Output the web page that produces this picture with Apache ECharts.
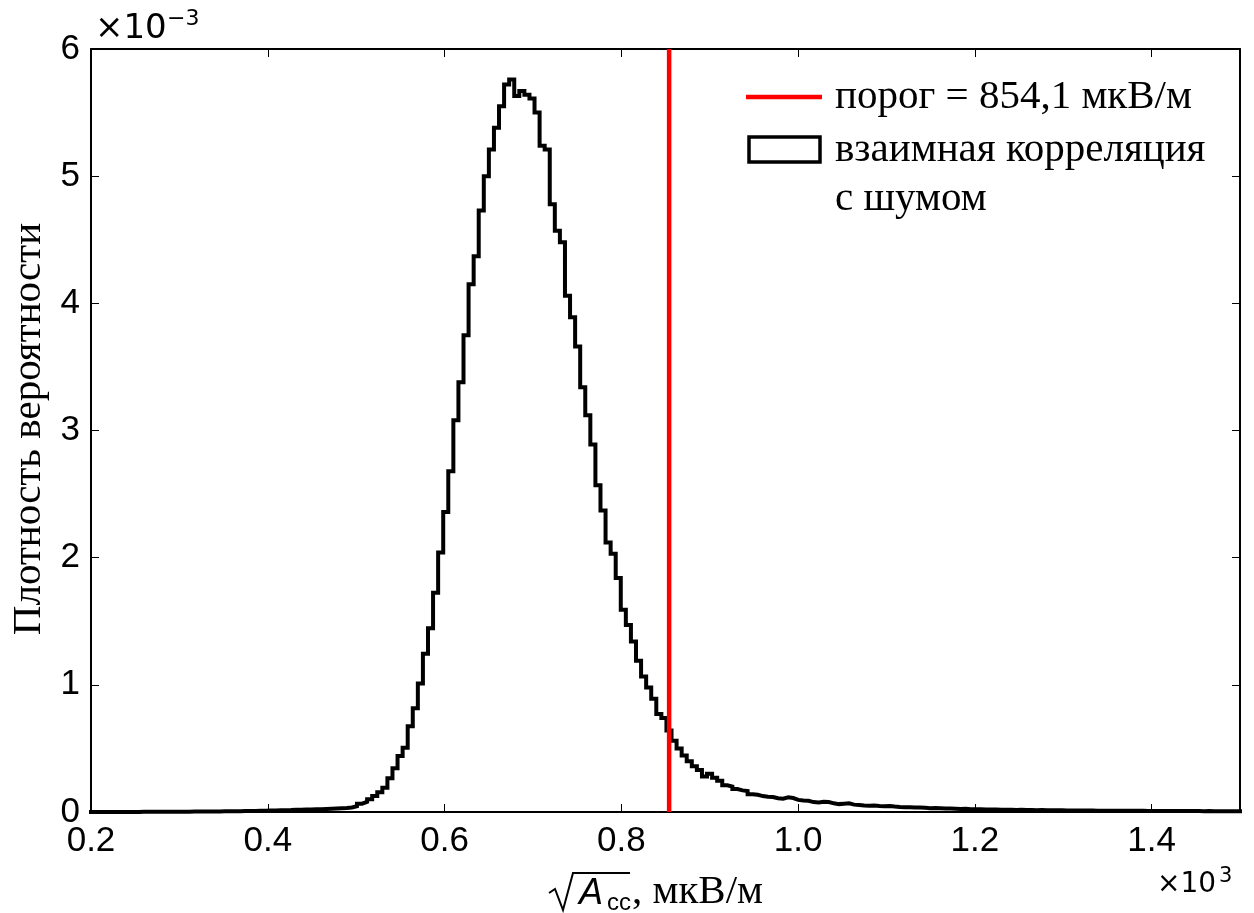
<!DOCTYPE html>
<html>
<head>
<meta charset="utf-8">
<script src="https://cdn.jsdelivr.net/npm/echarts@6/dist/echarts.min.js"></script>
<style>
    html, body { margin: 0; padding: 0; background: #fff; }
    #chart { width: 1254px; height: 913px; }
</style>
</head>
<body>
<div id="chart"></div>
<script>
// гистограмма: начало первого бина и ширина бина (в единицах ×10^3)
var binStart = 0.1967
var binWidth = 0.00574
// плотность вероятности по бинам (×10^-3)
var density = [
    0, 0, 0, 0, 0, 0, 0, 0, 0, 0,
    0.001, 0.001, 0.001, 0.001, 0.001, 0.001, 0.002, 0.002, 0.002, 0.002,
    0.003, 0.003, 0.003, 0.004, 0.004, 0.004, 0.005, 0.005, 0.006, 0.006,
    0.007, 0.008, 0.008, 0.009, 0.010, 0.011, 0.012, 0.013, 0.014, 0.015,
    0.017, 0.018, 0.019, 0.020, 0.021, 0.022, 0.024, 0.026, 0.028, 0.030,
    0.032, 0.035, 0.045, 0.065, 0.080, 0.100, 0.125, 0.155, 0.190, 0.265,
    0.345, 0.44, 0.505, 0.675, 0.815, 1.01, 1.245, 1.445, 1.725, 2.04,
    2.36, 2.68, 3.08, 3.38, 3.75, 4.15, 4.37, 4.73, 5.00, 5.21,
    5.38, 5.55, 5.72, 5.76, 5.63, 5.67, 5.64, 5.61, 5.50, 5.24,
    5.21, 4.78, 4.57, 4.48, 4.06, 3.89, 3.66, 3.34, 3.12, 2.89,
    2.57, 2.37, 2.12, 2.03, 1.84, 1.59, 1.47, 1.34, 1.19, 1.065,
    0.98, 0.89, 0.77, 0.74, 0.64, 0.56, 0.50, 0.445, 0.40, 0.36,
    0.33, 0.28, 0.30, 0.27, 0.245, 0.21, 0.20, 0.18, 0.17, 0.165,
    0.14, 0.135, 0.125, 0.12, 0.118, 0.108, 0.105, 0.115, 0.11, 0.095,
    0.09, 0.088, 0.078, 0.075, 0.08, 0.078, 0.068, 0.062, 0.065, 0.068,
    0.058, 0.055, 0.052, 0.05, 0.052, 0.048, 0.045, 0.047, 0.043, 0.04,
    0.038, 0.037, 0.035, 0.036, 0.033, 0.03, 0.031, 0.029, 0.027, 0.028,
    0.026, 0.024, 0.025, 0.022, 0.021, 0.022, 0.02, 0.019, 0.02, 0.018,
    0.017, 0.018, 0.016, 0.017, 0.015, 0.016, 0.014, 0.015, 0.013, 0.014,
    0.013, 0.013, 0.012, 0.012, 0.012, 0.011, 0.011, 0.011, 0.010, 0.010,
    0.010, 0.010, 0.009, 0.010, 0.009, 0.009, 0.009, 0.009, 0.008, 0.008,
    0.008, 0.008, 0.008, 0.007, 0.008, 0.007, 0.007, 0.007, 0.007, 0.006,
    0.007, 0.006, 0.006, 0.006, 0.006, 0.005, 0.006, 0.005
]
var threshold = 0.8541
var legendNames = ['порог = 854,1 мкВ/м', 'взаимная корреляция', 'с шумом']
var xTicks = [0.2, 1.5, 0.2]   // min, max, interval
var yTicks = [0, 6, 1]

var sansFont = '"Liberation Sans", "DejaVu Sans", sans-serif'
var mathFont = '"DejaVu Sans", sans-serif'
var serifFont = '"Liberation Serif", "DejaVu Serif", serif'

var chart = echarts.init(document.getElementById('chart'))

// точки ступенчатой линии: левый край каждого бина
var stepData = []
for (var i = 0; i < density.length; i++) {
    stepData.push([binStart + i * binWidth, density[i]])
}
stepData.push([binStart + density.length * binWidth, density[density.length - 1]])

function makeX(pos, showLabel) {
    return {
        type: 'value',
        position: pos,
        min: xTicks[0],
        max: xTicks[1],
        interval: xTicks[2],
        axisLine: { show: true, onZero: false, lineStyle: { color: '#000', width: 2 } },
        axisTick: { show: true, inside: true, length: 8, lineStyle: { color: '#000', width: 1 } },
        splitLine: { show: false },
        axisLabel: {
            show: showLabel,
            showMaxLabel: false,
            margin: 12,
            color: '#000',
            fontSize: 35,
            fontFamily: sansFont,
            formatter: function (v) { return v.toFixed(1) }
        }
    }
}

function makeY(pos, showLabel) {
    return {
        type: 'value',
        position: pos,
        min: yTicks[0],
        max: yTicks[1],
        interval: yTicks[2],
        axisLine: { show: true, onZero: false, lineStyle: { color: '#000', width: 2 } },
        axisTick: { show: true, inside: true, length: 8, lineStyle: { color: '#000', width: 1 } },
        splitLine: { show: false },
        axisLabel: {
            show: showLabel,
            margin: 11,
            color: '#000',
            fontSize: 35,
            fontFamily: sansFont
        }
    }
}

var option = {
    backgroundColor: '#fff',
    animation: false,
    grid: { left: 91, top: 49, width: 1149, height: 763, containLabel: false },
    xAxis: [makeX('bottom', true), makeX('top', false)],
    yAxis: [makeY('left', true), makeY('right', false)],
    series: [
        {
            name: legendNames[1],
            type: 'line',
            step: 'end',
            data: stepData,
            showSymbol: false,
            clip: true,
            lineStyle: { color: '#000', width: 4, join: 'miter', cap: 'butt' },
            z: 3
        },
        {
            name: legendNames[0],
            type: 'line',
            data: [[threshold, yTicks[0]], [threshold, yTicks[1]]],
            showSymbol: false,
            silent: true,
            lineStyle: { color: '#ff0000', width: 4.5 },
            z: 4
        }
    ],
    graphic: [
        // множители осей
        { type: 'text', x: 95, y: 29, style: { text: '×10', fontSize: 34, fontFamily: mathFont, fill: '#000', verticalAlign: 'middle' } },
        { type: 'text', x: 167, y: 19, style: { text: '−3', fontSize: 22, fontFamily: mathFont, fill: '#000', verticalAlign: 'middle' } },
        { type: 'text', x: 1157, y: 885, style: { text: '×10', fontSize: 28, fontFamily: mathFont, fill: '#000', verticalAlign: 'middle' } },
        { type: 'text', x: 1219, y: 877, style: { text: '3', fontSize: 21, fontFamily: mathFont, fill: '#000', verticalAlign: 'middle' } },
        // подпись оси Y
        {
            type: 'text', x: 29, y: 429, rotation: Math.PI / 2,
            style: { text: 'Плотность вероятности', fontSize: 41, fontFamily: serifFont, fill: '#000', align: 'center', verticalAlign: 'middle' }
        },
        // подпись оси X: корень из A_cc
        {
            type: 'polyline',
            shape: { points: [[549, 893], [555, 889], [563, 910], [573, 873], [630, 873]] },
            style: { stroke: '#000', lineWidth: 2, fill: null }
        },
        { type: 'text', x: 579, y: 894, style: { text: 'A', fontSize: 36, fontStyle: 'italic', fontFamily: sansFont, fill: '#000', verticalAlign: 'middle' } },
        { type: 'text', x: 607, y: 903, style: { text: 'cc', fontSize: 24, fontFamily: sansFont, fill: '#000', verticalAlign: 'middle' } },
        { type: 'text', x: 632, y: 892, style: { text: ', мкВ/м', fontSize: 41, fontFamily: serifFont, fill: '#000', verticalAlign: 'middle' } },
        // легенда
        { type: 'line', shape: { x1: 746, y1: 97, x2: 822, y2: 97 }, style: { stroke: '#ff0000', lineWidth: 4.5 } },
        { type: 'rect', shape: { x: 749, y: 137, width: 71, height: 25 }, style: { stroke: '#000', lineWidth: 3.5, fill: null } },
        { type: 'text', x: 835, y: 97, style: { text: legendNames[0], fontSize: 41, fontFamily: serifFont, fill: '#000', verticalAlign: 'middle' } },
        { type: 'text', x: 835, y: 150, style: { text: legendNames[1], fontSize: 41, fontFamily: serifFont, fill: '#000', verticalAlign: 'middle' } },
        { type: 'text', x: 835, y: 199, style: { text: legendNames[2], fontSize: 41, fontFamily: serifFont, fill: '#000', verticalAlign: 'middle' } }
    ]
}

chart.setOption(option)
window.addEventListener('resize', function () {
    chart.resize()
})
</script>
</body>
</html>
